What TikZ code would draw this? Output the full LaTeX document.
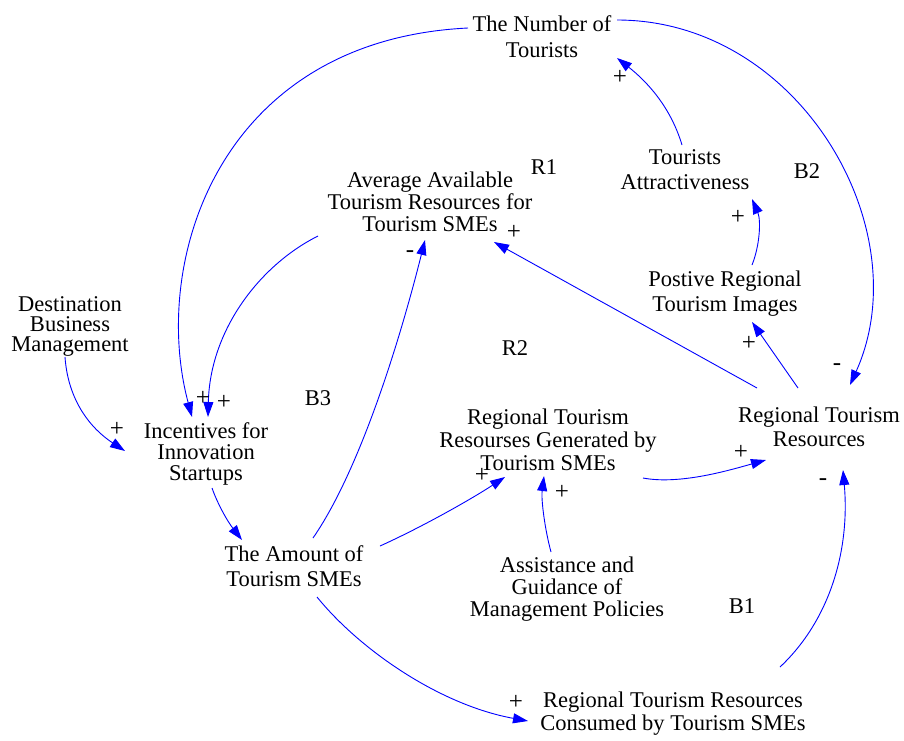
\documentclass[tikz,border=0pt]{standalone}
\usepackage{fontspec}
\setmainfont{Liberation Serif}
\usetikzlibrary{arrows.meta}

\tikzset{
  concept/.style={font=\fontsize{22.5pt}{#1}\selectfont, align=center, inner sep=0pt, text=black},
  concept/.default=22pt,
  loopname/.style={font=\fontsize{22.5pt}{22pt}\selectfont, inner sep=0pt, text=black},
  polarity/.style={font=\fontsize{25pt}{25pt}\selectfont, inner sep=0pt, text=black},
  link/.style={draw=blue, line width=0.9pt, -{Triangle[length=15pt,width=10pt]}}
}

\begin{document}
\begin{tikzpicture}[x=1pt, y=-1pt]
  \fill[white] (0,0) rectangle (904,740);
  \useasboundingbox (0,0) rectangle (904,740);

  % variables
  \node[concept=26pt] (num)    at (542,37)  {The Number of\\Tourists};
  \node[concept=25pt] (attr)   at (685,170) {Tourists\\Attractiveness};
  \node[concept=22pt] (avg)    at (430,202) {Average Available\\Tourism Resources for\\Tourism SMEs};
  \node[concept=25pt] (pos)    at (725,294) {Postive Regional\\Tourism Images};
  \node[concept=20pt] (dest)   at (70,326)  {Destination\\Business\\Management};
  \node[concept=24pt] (res)    at (819,427) {Regional Tourism\\Resources};
  \node[concept=21pt] (inc)    at (206,454) {Incentives for\\Innovation\\Startups};
  \node[concept=23pt] (gen)    at (548,440) {Regional Tourism\\Resourses Generated by\\Tourism SMEs};
  \node[concept=25pt] (amt)    at (294,566) {The Amount of\\Tourism SMEs};
  \node[concept=22pt] (assist) at (567,589) {Assistance and\\Guidance of\\Management Policies};
  \node[concept=23pt] (cons)   at (673,714) {Regional Tourism Resources\\Consumed by Tourism SMEs};

  % loop identifiers
  \node[loopname] (R1) at (544,167) {R1};
  \node[loopname] (B2) at (807,171) {B2};
  \node[loopname] (R2) at (515,348) {R2};
  \node[loopname] (B3) at (318,398) {B3};
  \node[loopname] (B1) at (742,606) {B1};

  % causal links
  \draw[link] ([shift={(-74,-9)}]num.center) .. controls (220,40) and (150,260) .. ([shift={(-14,-37)}]inc.center);
  \draw[link] ([shift={(75,-17)}]num.center) .. controls (800,20) and (920,230) .. ([shift={(31,-42)}]res.center);
  \draw[link] ([shift={(-3,-25)}]attr.center) .. controls (670,105) and (645,80) .. ([shift={(75,21)}]num.center);
  \draw[link] ([shift={(27,-29)}]pos.center) .. controls (760,245) and (761,220) .. ([shift={(67,29)}]attr.center);
  \draw[link] ([shift={(-21,-39)}]res.center) -- ([shift={(27,28)}]pos.center);
  \draw[link] ([shift={(-62,-39)}]res.center) -- ([shift={(64,40)}]avg.center);
  \draw[link] ([shift={(-112,34)}]avg.center) .. controls (260,265) and (210,330) .. ([shift={(2,-37)}]inc.center);
  \draw[link] ([shift={(-5,31)}]dest.center) .. controls (68,400) and (90,428) .. ([shift={(-81,-3)}]inc.center);
  \draw[link] ([shift={(6,34)}]inc.center) .. controls (218,505) and (228,522) .. ([shift={(-52,-26)}]amt.center);
  \draw[link] ([shift={(19,-28)}]amt.center) .. controls (360,470) and (400,340) .. ([shift={(-5,38)}]avg.center);
  \draw[link] ([shift={(86,-20)}]amt.center) .. controls (420,528) and (470,500) .. ([shift={(-43,37)}]gen.center);
  \draw[link] ([shift={(-16,-37)}]assist.center) .. controls (545,530) and (541,500) .. ([shift={(-4,36)}]gen.center);
  \draw[link] ([shift={(95,38)}]gen.center) .. controls (680,485) and (730,470) .. ([shift={(-53,33)}]res.center);
  \draw[link] ([shift={(23,31)}]amt.center) .. controls (360,650) and (440,705) .. ([shift={(-145,7)}]cons.center);
  \draw[link] ([shift={(107,-47)}]cons.center) .. controls (830,620) and (850,550) .. ([shift={(24,43)}]res.center);

  % link polarities
  \node[polarity] (p1)  at (203,398) {+};
  \node[polarity] (p2)  at (224,402) {+};
  \node[polarity] (p3)  at (117,429) {+};
  \node[polarity] (p4)  at (837,367) {-};
  \node[polarity] (p5)  at (620,77)  {+};
  \node[polarity] (p6)  at (738,217) {+};
  \node[polarity] (p7)  at (749,343) {+};
  \node[polarity] (p8)  at (514,232) {+};
  \node[polarity] (p9)  at (410,254) {-};
  \node[polarity] (p10) at (482,475) {+};
  \node[polarity] (p11) at (562,492) {+};
  \node[polarity] (p12) at (741,452) {+};
  \node[polarity] (p13) at (516,702) {+};
  \node[polarity] (p14) at (823,482) {-};
\end{tikzpicture}
\end{document}
